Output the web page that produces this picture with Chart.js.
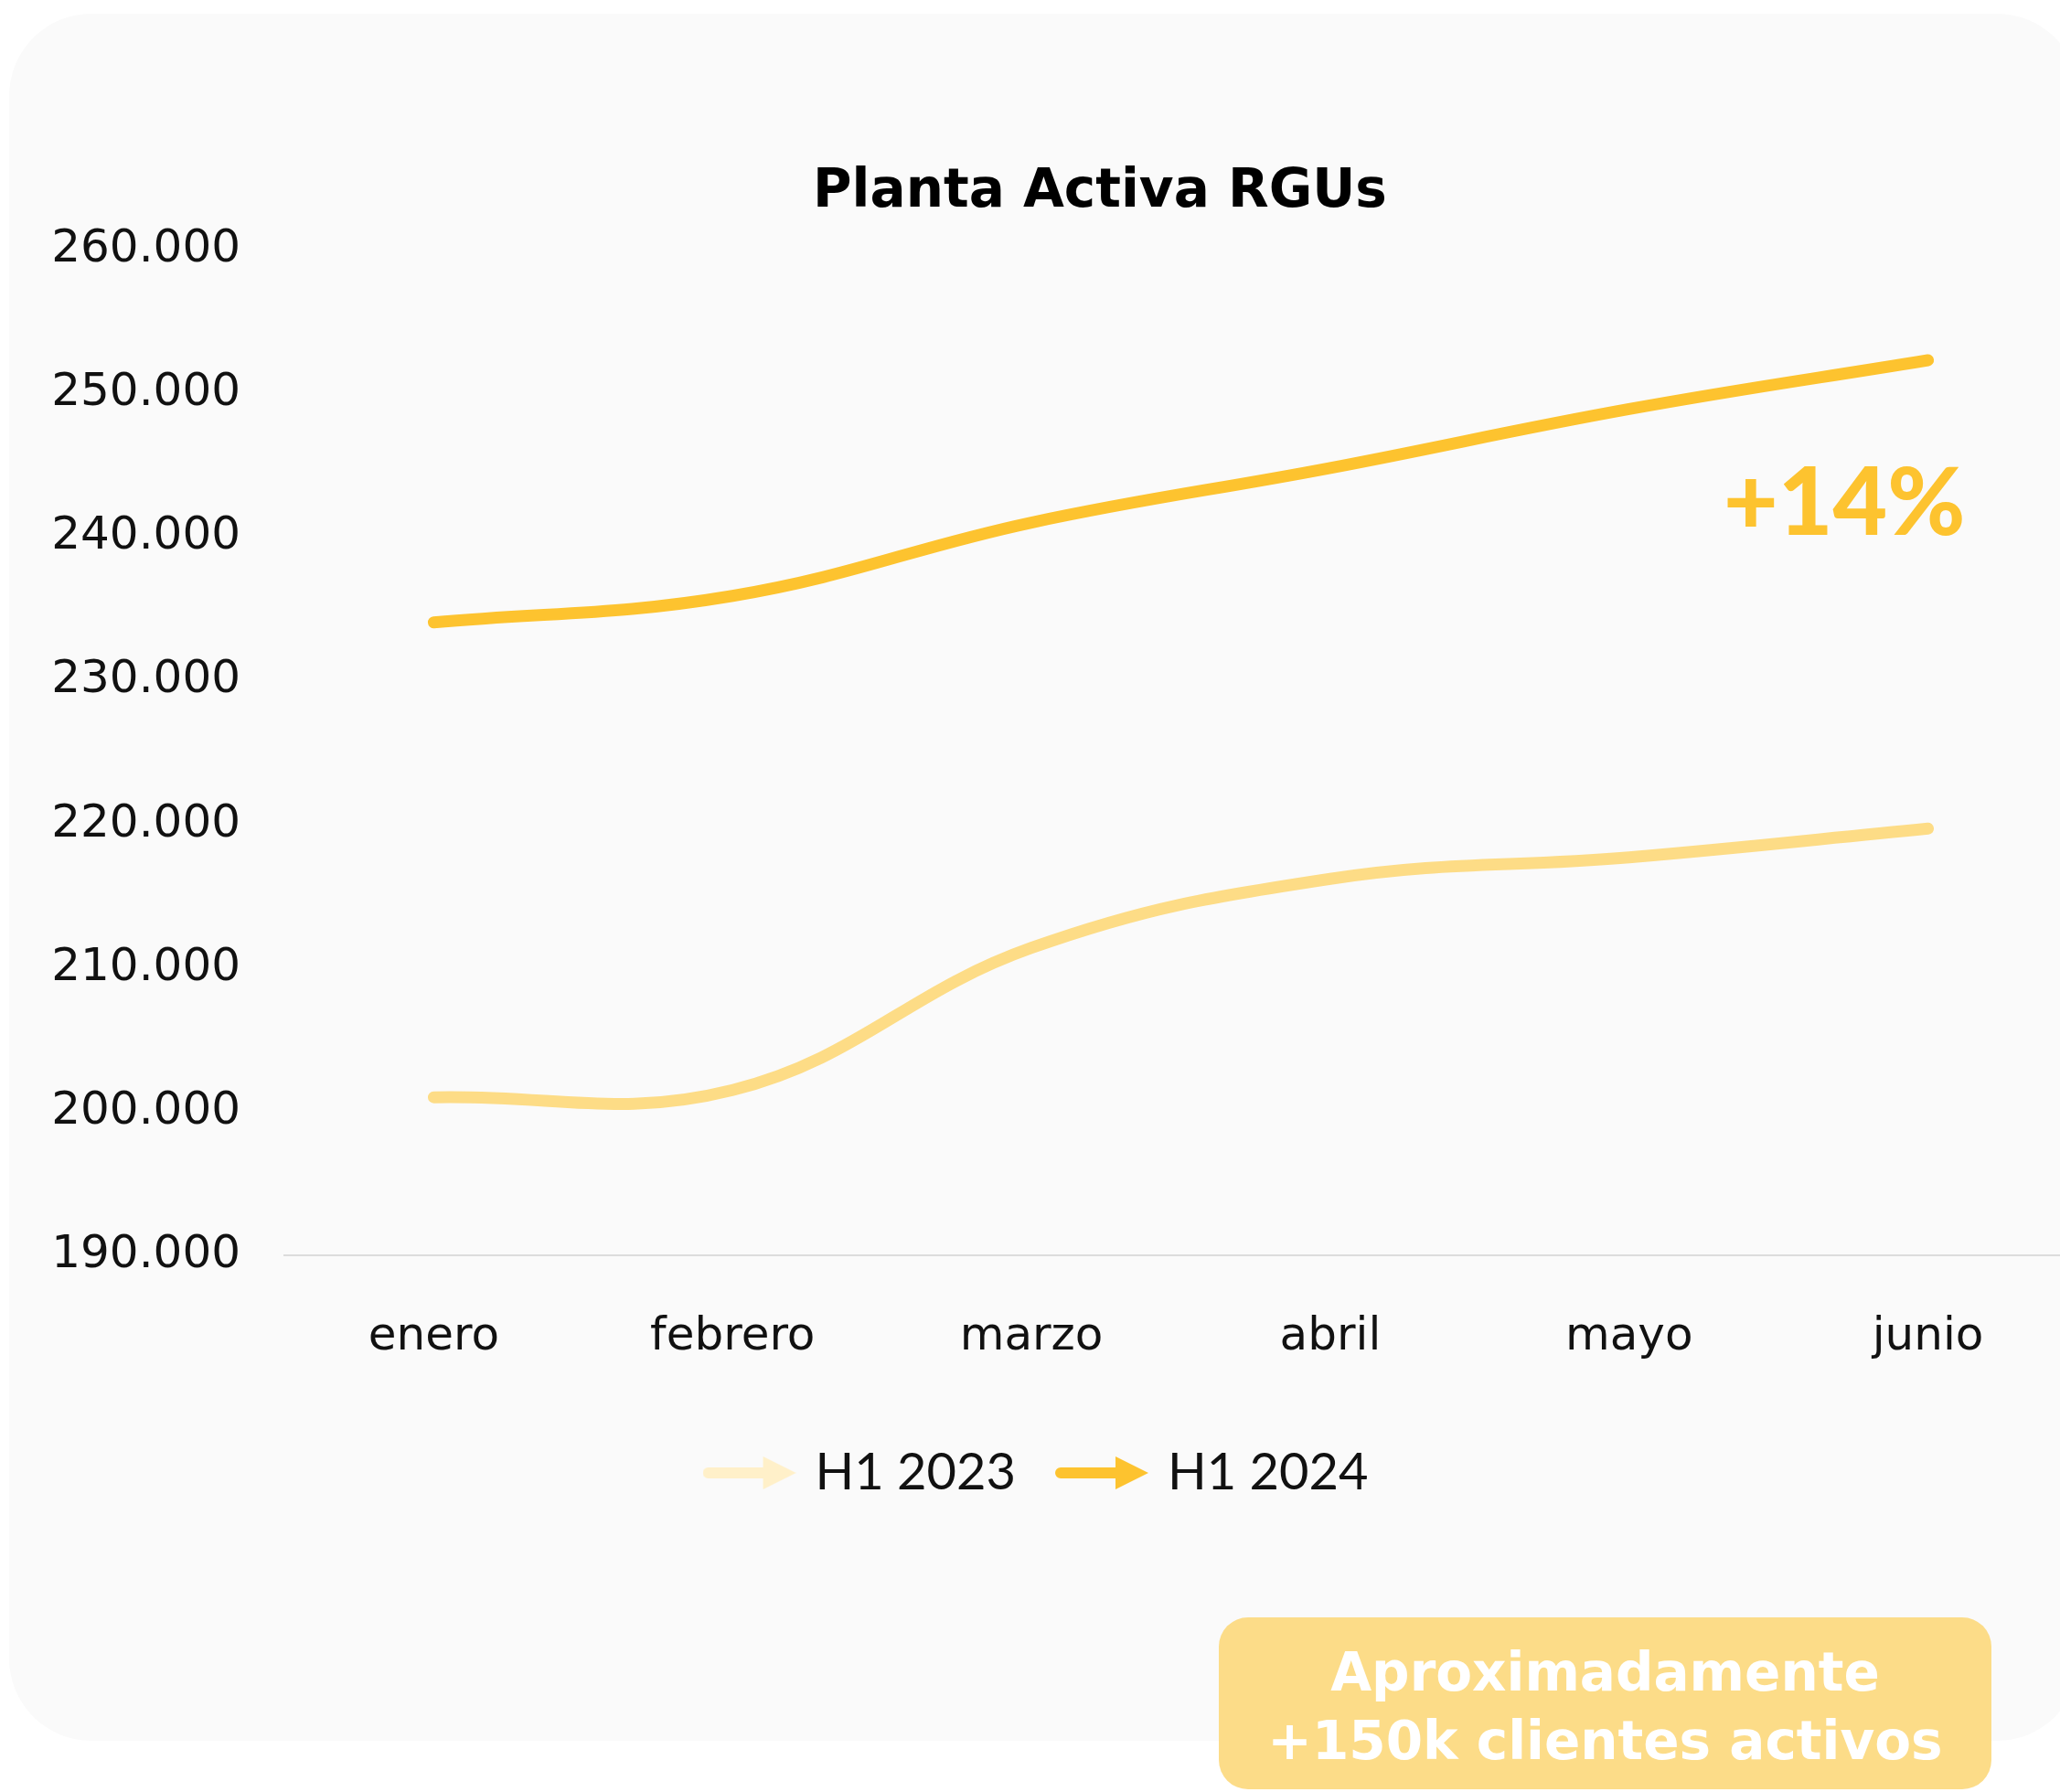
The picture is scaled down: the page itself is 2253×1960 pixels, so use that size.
<!DOCTYPE html>
<html lang="es">
<head>
<meta charset="utf-8">
<title>Planta Activa RGUs</title>
<script src="https://cdn.jsdelivr.net/npm/chart.js@4/dist/chart.umd.min.js"></script>
<style>
  html, body { margin: 0; padding: 0; background: #ffffff; width: 2253px; height: 1960px; overflow: hidden; }
  .card { position: absolute; left: 10px; top: 15px; width: 2264px; height: 1889px; border-radius: 90px; background: #fafafa; }
  #chart { position: absolute; left: 0; top: 0; }
  .titulo { position: absolute; left: 703px; top: 171px; width: 1000px; text-align: center;
    font: bold 58px/70px "DejaVu Sans", sans-serif; color: #000; }
  .delta { position: absolute; left: 1885px; top: 494px; font: 900 103px/103px Lato, sans-serif; color: #fdc32f; white-space: nowrap; }
  .nota { position: absolute; left: 1333px; top: 1769px; width: 845px; height: 188px; border-radius: 32px;
    background: #fcdc88; color: #fff; text-align: center; box-sizing: border-box; padding-top: 23px;
    font: bold 58px/75px "DejaVu Sans", sans-serif; }
</style>
</head>
<body>
<div class="card"></div>
<canvas id="chart" width="2272" height="1652"></canvas>
<div class="titulo">Planta Activa RGUs</div>
<div class="delta">+14%</div>
<div class="nota">Aproximadamente<br>+150k clientes activos</div>
<script>
  // Datos
  var meses = ['enero', 'febrero', 'marzo', 'abril', 'mayo', 'junio'];
  var h1_2023 = [201000, 201500, 211400, 216200, 217700, 219700];
  var h1_2024 = [234050, 235900, 241000, 244800, 248900, 252300];
  var series = ['H1 2023', 'H1 2024'];
  var Y_MIN = 190000, Y_MAX = 260000, Y_PASO = 10000;

  var colLinea = ['#fddc86', '#fdc32f'];
  var colLeyenda = ['#fff0c9', '#fdc32f'];

  // flecha para la leyenda
  function flecha(color) {
    var c = document.createElement('canvas');
    c.width = 102; c.height = 40;
    var g = c.getContext('2d');
    g.fillStyle = color;
    g.beginPath();
    g.moveTo(6, 14); g.lineTo(66, 14); g.lineTo(66, 2); g.lineTo(102, 20);
    g.lineTo(66, 38); g.lineTo(66, 26); g.lineTo(6, 26);
    g.arc(6, 20, 6, Math.PI / 2, Math.PI * 1.5);
    g.closePath();
    g.fill();
    return c;
  }
  var iconos = colLeyenda.map(flecha);

  function miles(v) { return String(v).replace(/\B(?=(\d{3})+(?!\d))/g, '.'); }

  new Chart(document.getElementById('chart').getContext('2d'), {
    type: 'line',
    data: {
      labels: meses,
      datasets: [
        { label: series[0], data: h1_2023, borderColor: colLinea[0], backgroundColor: colLinea[0], borderWidth: 13,
          borderCapStyle: 'round', pointRadius: 0, tension: 0.4, fill: false },
        { label: series[1], data: h1_2024, borderColor: colLinea[1], backgroundColor: colLinea[1], borderWidth: 13,
          borderCapStyle: 'round', pointRadius: 0, tension: 0.4, fill: false }
      ]
    },
    options: {
      responsive: false, animation: false, devicePixelRatio: 1,
      layout: { padding: { top: 273, left: 0, right: 0, bottom: 3 } },
      plugins: {
        title: { display: false },
        tooltip: { enabled: false },
        legend: {
          position: 'bottom',
          labels: {
            usePointStyle: true, pointStyleWidth: 88, padding: 50, color: '#111',
            font: { family: 'Lato', size: 56 },
            generateLabels: function (chart) {
              return chart.data.datasets.map(function (ds, i) {
                return { text: ds.label, pointStyle: iconos[i], fillStyle: colLeyenda[i], strokeStyle: colLeyenda[i],
                  lineWidth: 0, hidden: false, datasetIndex: i, fontColor: '#111' };
              });
            }
          }
        }
      },
      scales: {
        x: {
          offset: true,
          grid: { display: false, drawTicks: false },
          border: { display: true, color: '#dcdcdc', width: 2 },
          ticks: { color: '#111', padding: 60, font: { family: 'DejaVu Sans', size: 50 } },
          afterFit: function (s) { s.height = 160; }
        },
        y: {
          min: Y_MIN, max: Y_MAX,
          grid: { display: false, drawTicks: false },
          border: { display: false },
          ticks: { stepSize: Y_PASO, color: '#111', padding: 48, font: { family: 'DejaVu Sans', size: 50 },
            callback: function (v) { return miles(v); } },
          afterFit: function (s) { s.width = 311; }
        }
      }
    }
  });
</script>
</body>
</html>
